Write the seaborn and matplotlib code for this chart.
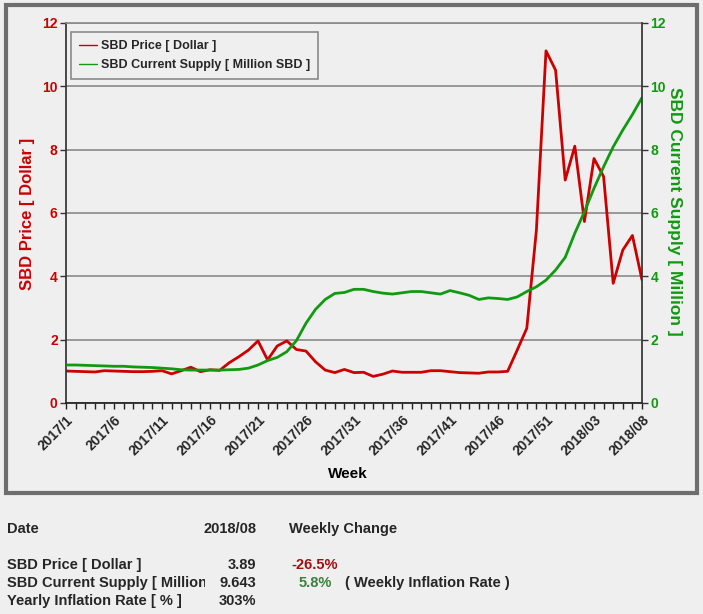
import numpy as np
import pandas as pd
import seaborn as sns
import matplotlib.pyplot as plt
from matplotlib.lines import Line2D
from matplotlib.patches import Rectangle
from matplotlib.transforms import Bbox, TransformedBbox

# 数据
weeks = ['2017/%d' % w for w in range(1, 54)] + ['2018/%02d' % w for w in range(1, 9)]

price = [1.01, 1.00, 0.99, 0.98, 1.02, 1.01, 1.00, 0.99, 0.99, 1.00, 1.02,
         0.92, 1.02, 1.13, 0.99, 1.05, 1.03, 1.27, 1.46, 1.67, 1.96,
         1.36, 1.80, 1.96, 1.69, 1.64, 1.30, 1.04, 0.96, 1.06, 0.96,
         0.97, 0.84, 0.91, 1.01, 0.97, 0.97, 0.97, 1.02, 1.02, 0.99,
         0.96, 0.95, 0.94, 0.98, 0.98, 1.00, 1.67, 2.36, 5.46, 11.12,
         10.51, 7.04, 8.11, 5.73, 7.72, 7.15, 3.78, 4.83, 5.29, 3.89]

supply = [1.20, 1.20, 1.19, 1.18, 1.17, 1.16, 1.16, 1.14, 1.13, 1.12, 1.10,
          1.08, 1.05, 1.04, 1.04, 1.04, 1.04, 1.05, 1.06, 1.10, 1.20,
          1.34, 1.44, 1.62, 1.97, 2.52, 2.96, 3.27, 3.46, 3.49, 3.59,
          3.59, 3.52, 3.47, 3.44, 3.48, 3.52, 3.52, 3.48, 3.44, 3.55,
          3.48, 3.40, 3.27, 3.32, 3.30, 3.27, 3.35, 3.52, 3.67, 3.88,
          4.20, 4.60, 5.36, 6.04, 6.78, 7.46, 8.09, 8.62, 9.11, 9.643]

y_ticks = [0, 2, 4, 6, 8, 10, 12]

# 表格文字
table_rows = [
    ('Date', '2018/08', 'Weekly Change', ''),
    ('SBD Price [ Dollar ]', '3.89', '-26.5%', ''),
    ('SBD Current Supply [ Million', '9.643', '5.8%', '( Weekly Inflation Rate )'),
    ('Yearly Inflation Rate [ % ]', '303%', '', ''),
]

RED = '#cc0000'
GREEN = '#109a10'
BG = '#efefef'
GRID = '#8a8a8a'

sns.set_theme(style='white')
plt.rcParams['font.family'] = ['Liberation Sans', 'DejaVu Sans']

df = pd.DataFrame({'idx': np.arange(len(weeks)), 'week': weeks,
                   'price': price, 'supply': supply})

W, H = 703, 614
fig = plt.figure(figsize=(W / 100, H / 100), dpi=100, facecolor=BG)
ax = fig.add_axes([66 / W, 1 - 403 / H, 576 / W, 380 / H])
ax.set_facecolor(BG)
ax2 = ax.twinx()

sns.lineplot(data=df, x='idx', y='price', color=RED, lw=2, ax=ax, legend=False)
sns.lineplot(data=df, x='idx', y='supply', color=GREEN, lw=2, ax=ax2, legend=False)

for a in (ax, ax2):
    a.set_xlim(0, len(weeks) - 1)
    a.set_ylim(0, 12)
    a.set_yticks(y_ticks)
    for s in a.spines.values():
        s.set_visible(False)

ax.spines['left'].set_visible(True)
ax.spines['left'].set_color('#333333')
ax.spines['bottom'].set_visible(True)
ax.spines['bottom'].set_color('#222222')
ax.spines['top'].set_visible(True)
ax.spines['top'].set_color(GRID)
ax.spines['top'].set_linewidth(1.2)
ax2.spines['right'].set_visible(True)
ax2.spines['right'].set_color('#333333')

ax.yaxis.grid(True, color=GRID, lw=1.2)
ax.set_axisbelow(True)

ax.set_xticks(df['idx'])
ax.set_xticklabels([w if i % 5 == 0 else '' for i, w in enumerate(weeks)],
                   rotation=45, ha='right', rotation_mode='anchor',
                   fontsize=10, fontweight='bold')
ax.tick_params(axis='x', bottom=True, length=4, width=1, color='#222222', pad=3)
ax.tick_params(axis='y', left=True, length=4, width=1, color='#333333',
               labelcolor=RED, labelsize=10, pad=2)
ax2.tick_params(axis='y', right=True, length=4, width=1, color='#333333',
                labelcolor=GREEN, labelsize=10, pad=2)
for lab in ax.get_yticklabels() + ax2.get_yticklabels():
    lab.set_fontweight('bold')

ax.set_xlabel('Week', fontsize=11, fontweight='bold', color='black')
ax.xaxis.set_label_coords(0.49, -0.187)
ax.xaxis.label.set_va('center')
ax.set_ylabel('SBD Price [ Dollar ]', fontsize=12, fontweight='bold', color=RED)
ax.yaxis.set_label_coords(-0.066, 0.497)
ax.yaxis.label.set_va('center')
ax2.set_ylabel('SBD Current Supply [ Million ]', fontsize=12.5, fontweight='bold',
               color=GREEN, rotation=270)
ax2.yaxis.set_label_coords(1.057, 0.505)
ax2.yaxis.label.set_va('center')
ax2.yaxis.label.set_ha('center')

handles = [Line2D([], [], color=RED, lw=1), Line2D([], [], color=GREEN, lw=1)]
leg = ax2.legend(handles, ['SBD Price [ Dollar ]', 'SBD Current Supply [ Million SBD ]'],
                 loc='upper left', bbox_to_anchor=(5 / 576, (403 - 32) / 380),
                 borderaxespad=0, fancybox=False, framealpha=1, facecolor=BG,
                 edgecolor='#8a8a8a', prop={'size': 9, 'weight': 'bold'},
                 handlelength=1.4, handletextpad=0.35, labelspacing=0.55,
                 borderpad=0.65)
leg.get_frame().set_linewidth(1.2)

# 外框
fig.patches.append(Rectangle((6 / W, 1 - 493 / H), 691 / W, 488 / H,
                             transform=fig.transFigure, fill=False,
                             ec='#6e6e6e', lw=3))

# 下方表格
row_y = [529, 565, 583, 601]
clip = TransformedBbox(Bbox([[0, 0], [205 / W, 1]]), fig.transFigure)
for (name, val, chg, note), y in zip(table_rows, row_y):
    fy = 1 - y / H
    t = fig.text(7 / W, fy, name, fontsize=10.5, fontweight='bold', va='center')
    t.set_clip_box(clip)
    t.set_clip_on(True)
    fig.text(256 / W, fy, val, fontsize=10.5, fontweight='bold', va='center', ha='right')
    if chg:
        if chg.startswith('-'):
            fig.text(338 / W, fy, chg, fontsize=10.5, fontweight='bold', va='center',
                     ha='right', color='#a01010')
        elif chg.endswith('%'):
            fig.text(332 / W, fy, chg, fontsize=10.5, fontweight='bold', va='center',
                     ha='right', color='#3c7f3c')
        else:
            fig.text(289 / W, fy, chg, fontsize=10.5, fontweight='bold', va='center')
    if note:
        fig.text(345 / W, fy, note, fontsize=10.5, fontweight='bold', va='center')

fig.savefig('out.png', dpi=100, facecolor=BG)
